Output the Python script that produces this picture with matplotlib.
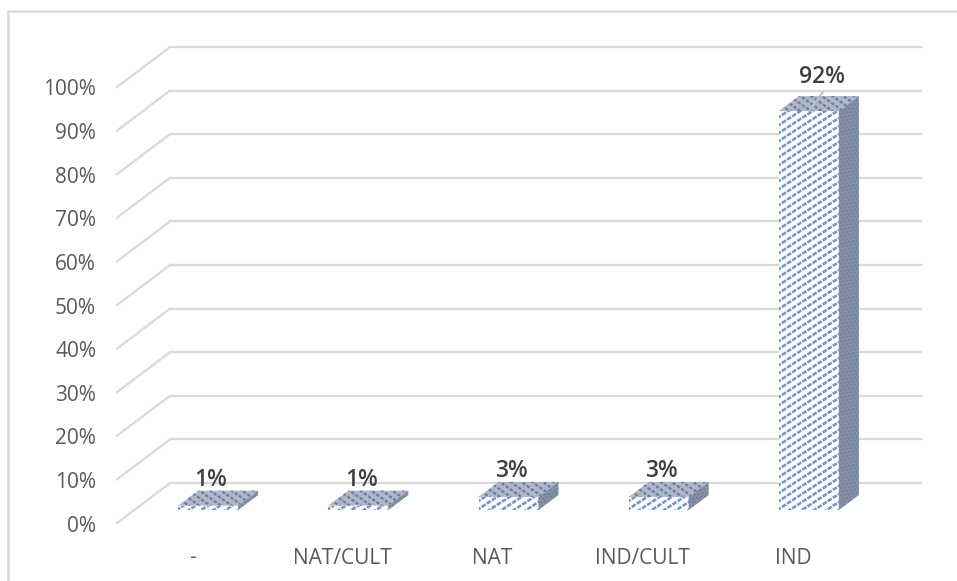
import matplotlib
matplotlib.use("Agg")
import matplotlib.pyplot as plt
import numpy as np
from matplotlib.lines import Line2D
from matplotlib.patches import Polygon
from matplotlib.transforms import Affine2D, IdentityTransform

categories = ["-", "NAT/CULT", "NAT", "IND/CULT", "IND"]
values = [1, 1, 3, 3, 91.5]
ticks = [0, 10, 20, 30, 40, 50, 60, 70, 80, 90, 100]

W, H = 957, 581
plt.rcParams['font.family'] = ['Open Sans', 'DejaVu Sans']

fig = plt.figure(figsize=(W / 100, H / 100), dpi=100)
# axes is the plane of the bar fronts, everything else is shifted from it in pixels
ax = fig.add_axes([133 / W, (H - 510) / H, 751 / W, 436 / H])
ax.set_xlim(-0.5, 4.5)
ax.set_ylim(0, 100)
ax.axis("off")

def shifted(dx, dy):
    return ax.transData + Affine2D().translate(dx, dy)

front = shifted(-16, -13)
back = shifted(37, 27)
GRID = "#d9d9d9"
TEXT = "#595959"
BLUE = "#4472c4"

# face of a bar with diagonal dashes clipped to it
def face(pts, facecolor, slope, spacing, lw, dashes, alpha):
    poly = Polygon(pts, closed=True, facecolor=facecolor, edgecolor="none", zorder=3, clip_on=False)
    ax.add_patch(poly)
    xy = ax.transData.transform(pts)
    xs = np.array([xy[:, 0].min() - 2, xy[:, 0].max() + 2])
    c = xy[:, 1] - slope * xy[:, 0]
    for off in np.arange(c.min() - spacing, c.max() + spacing, spacing):
        line, = ax.plot(xs, slope * xs + off, color=BLUE, lw=lw, dashes=dashes, alpha=alpha,
                        transform=IdentityTransform(), zorder=4)
        line.set_clip_path(poly)

# gridlines on back wall and side wall
for v in ticks:
    ax.plot([-0.5, 4.5], [v, v], color=GRID, lw=1.6, transform=back, clip_on=False, zorder=1)
    x0, y0 = front.transform((-0.5, v))
    x1, y1 = back.transform((-0.5, v))
    fig.add_artist(Line2D([x0 / W, x1 / W], [y0 / H, y1 / H], color=GRID, lw=1.6,
                          transform=fig.transFigure, zorder=1))
    ax.text(-0.5, v, str(v) + "%", transform=shifted(-37, -16), ha="right", va="center",
            color=TEXT, fontsize=15, clip_on=False)

# bars, 60px wide with a 20/15 px depth
px = 751 / 5
py = 436 / 100
bar_w = 60 / px
ddx, ddy = 20 / px, 15 / py
for i, (c, v) in enumerate(zip(categories, values)):
    l, r = i - bar_w / 2, i + bar_w / 2
    face([(l, 0), (r, 0), (r, v), (l, v)], "white", 0.65, 8, 1.9, (1.8, 0.5), 0.75)
    face([(l, v), (r, v), (r + ddx, v + ddy), (l + ddx, v + ddy)], "#b4b7bd", -0.7, 7.5, 1.6, (1.5, 0.8), 0.8)
    face([(r, 0), (r + ddx, ddy), (r + ddx, v + ddy), (r, v)], "#8b919c", 2.0, 7, 1.4, (1.2, 1.0), 0.45)
    tall = v > 50
    ax.text(i, v, "%.0f%%" % v, transform=shifted(13 if tall else 3, 34 if tall else 26),
            ha="center", va="center", color="#404040", fontsize=16.5, fontweight="semibold",
            clip_on=False, zorder=6)
    ax.text(i, 0, c, transform=shifted(-16, -48), ha="center", va="center",
            color=TEXT, fontsize=15, clip_on=False)
    if tall:
        # leader line of the moved label
        x0, y0 = ax.transData.transform((i, v))
        fig.add_artist(Line2D([x0 / W, (x0 + 14) / W], [y0 / H, (y0 + 19) / H], color="#bfbfbf", lw=1.3,
                              transform=fig.transFigure, zorder=5))

# chart frame, top and left only are visible in the crop
fig.add_artist(Line2D([8 / W, 1], [1 - 11 / H, 1 - 11 / H], color=GRID, lw=1.8))
fig.add_artist(Line2D([8 / W, 8 / W], [0, 1 - 11 / H], color=GRID, lw=1.8))

fig.savefig("out.png", dpi=100)
